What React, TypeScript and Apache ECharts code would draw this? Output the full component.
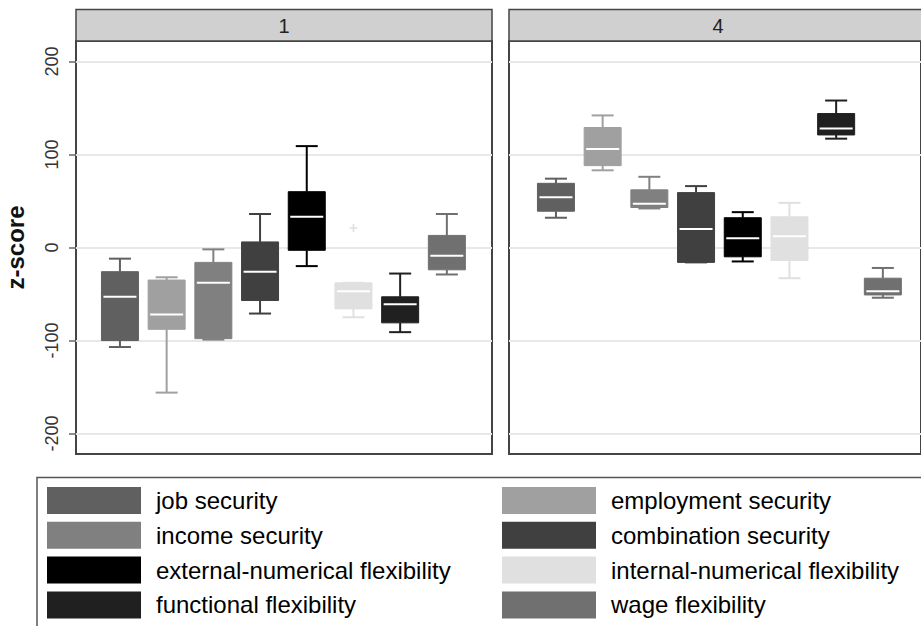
import React, { useEffect, useRef } from "react";
import * as echarts from "echarts";

const categories = [
  "job security",
  "employment security",
  "income security",
  "combination security",
  "external-numerical flexibility",
  "internal-numerical flexibility",
  "functional flexibility",
  "wage flexibility",
];
const colors = ["#606060", "#a0a0a0", "#808080", "#404040", "#000000", "#e0e0e0", "#202020", "#707070"];
const panels = ["1", "4"];
// [low whisker, Q1, median, Q3, high whisker]
const panel1Stats = [
  [-107, -100, -53, -26, -12],
  [-156, -88, -72, -35, -32],
  [-99, -98, -38, -16, -2],
  [-71, -57, -26, 6, 36],
  [-20, -3, 33, 60, 109],
  [-75, -66, -47, -38, -38],
  [-91, -81, -61, -53, -28],
  [-29, -24, -9, 13, 36],
];
const panel4Stats = [
  [32, 39, 54, 69, 74],
  [83, 88, 106, 129, 142],
  [42, 43, 47, 62, 76],
  [-16, -16, 20, 59, 66],
  [-15, -10, 10, 32, 38],
  [-33, -14, 12, 33, 48],
  [117, 121, 128, 144, 158],
  [-54, -51, -47, -33, -22],
];
const panel1Outliers = [[5, 21]];
const yTicks = [-200, -100, 0, 100, 200];
const yMin = -222;
const yMax = 222;

const FONT = "'Liberation Sans', Arial, sans-serif";

export default function App() {
  const ref = useRef<HTMLDivElement>(null);
  useEffect(() => {
    document.body.style.margin = "0";
    document.body.style.overflow = "hidden";
    const chart = echarts.init(ref.current!, null, { renderer: "svg" });

    const boxW = 37;
    const capW = 22;
    const renderBox = (params: any, api: any) => {
      const x = api.value(0);
      const low = api.coord([x, api.value(1)]);
      const q1 = api.coord([x, api.value(2)]);
      const med = api.coord([x, api.value(3)]);
      const q3 = api.coord([x, api.value(4)]);
      const high = api.coord([x, api.value(5)]);
      const cx = low[0];
      const color = api.visual("color");
      const ws = { stroke: color, lineWidth: 2 };
      return {
        type: "group",
        children: [
          { type: "line", shape: { x1: cx, y1: high[1], x2: cx, y2: q3[1] }, style: ws },
          { type: "line", shape: { x1: cx, y1: q1[1], x2: cx, y2: low[1] }, style: ws },
          { type: "line", shape: { x1: cx - capW / 2, y1: high[1], x2: cx + capW / 2, y2: high[1] }, style: ws },
          { type: "line", shape: { x1: cx - capW / 2, y1: low[1], x2: cx + capW / 2, y2: low[1] }, style: ws },
          {
            type: "rect",
            shape: { x: cx - boxW / 2, y: q3[1], width: boxW, height: q1[1] - q3[1] },
            style: { fill: color, stroke: color, lineWidth: 1 },
          },
          {
            type: "line",
            shape: { x1: cx - boxW / 2 + 2, y1: med[1], x2: cx + boxW / 2 - 2, y2: med[1] },
            style: { stroke: "#ffffff", lineWidth: 2 },
          },
        ],
      };
    };

    const top = 41;
    const height = 413;
    const frames = [
      { left: 76, width: 416 },
      { left: 509, width: 418 },
    ];
    const dataGrids = [
      { left: 96.6, width: 373.6 },
      { left: 532.6, width: 373.6 },
    ];

    const grid: any[] = [];
    frames.forEach((f) =>
      grid.push({ left: f.left, top, width: f.width, height, show: true, borderColor: "#444", borderWidth: 2, backgroundColor: "#fff", containLabel: false })
    );
    dataGrids.forEach((g) => grid.push({ left: g.left, top, width: g.width, height, containLabel: false }));

    const xAxis: any[] = [0, 1, 2, 3].map((i) => ({
      type: "category",
      gridIndex: i,
      data: categories,
      show: false,
    }));

    const yAxis: any[] = [
      {
        type: "value",
        gridIndex: 0,
        min: yMin,
        max: yMax,
        name: "z-score",
        nameLocation: "middle",
        nameRotate: 90,
        nameGap: 49,
        nameTextStyle: { fontFamily: FONT, fontSize: 24, fontWeight: "bold", color: "#111" },
        axisLine: { show: false },
        axisTick: { show: true, length: 7, customValues: yTicks, lineStyle: { color: "#666", width: 1.5 } },
        axisLabel: { rotate: 90, customValues: yTicks, margin: 15, fontFamily: FONT, fontSize: 18, color: "#333" },
        splitLine: { show: true, lineStyle: { color: "#e8e8e8", width: 2 } },
      },
      {
        type: "value",
        gridIndex: 1,
        min: yMin,
        max: yMax,
        axisLine: { show: false },
        axisTick: { show: false, customValues: yTicks },
        axisLabel: { show: false, customValues: yTicks },
        splitLine: { show: true, lineStyle: { color: "#e8e8e8", width: 2 } },
      },
      { type: "value", gridIndex: 2, min: yMin, max: yMax, show: false, splitLine: { show: false } },
      { type: "value", gridIndex: 3, min: yMin, max: yMax, show: false, splitLine: { show: false } },
    ];

    const series: any[] = [];
    [panel1Stats, panel4Stats].forEach((stats, p) => {
      categories.forEach((name, i) => {
        series.push({
          type: "custom",
          name,
          xAxisIndex: 2 + p,
          yAxisIndex: 2 + p,
          itemStyle: { color: colors[i] },
          renderItem: renderBox,
          encode: { x: 0, y: [1, 2, 3, 4, 5] },
          data: [[i, ...stats[i]]],
          z: 3,
        });
      });
    });
    series.push({
      type: "scatter",
      name: "outlier",
      xAxisIndex: 2,
      yAxisIndex: 2,
      symbol: "path://M4,0H6V4H10V6H6V10H4V6H0V4H4Z",
      symbolSize: 8,
      itemStyle: { color: "#d8d8d8" },
      data: panel1Outliers,
      z: 3,
    });

    const legendBase = {
      orient: "vertical",
      top: 487,
      height: 200,
      padding: 0,
      icon: "rect",
      itemWidth: 94,
      itemHeight: 27,
      itemGap: 7.8,
      selectedMode: false,
      itemStyle: { borderWidth: 0 },
      textStyle: { fontFamily: FONT, fontSize: 24, lineHeight: 27, color: "#000", padding: [0, 0, 0, 10] },
    };

    const graphic: any[] = [];
    panels.forEach((label, p) => {
      const f = frames[p];
      graphic.push({
        type: "rect",
        shape: { x: f.left, y: 9.5, width: f.width, height: 31.5 },
        style: { fill: "#d0d0d0", stroke: "#444", lineWidth: 1.5 },
      });
      graphic.push({
        type: "text",
        x: f.left + f.width / 2,
        y: 25.5,
        style: { text: label, fontFamily: FONT, fontSize: 20, fill: "#222", textAlign: "center", textVerticalAlign: "middle" },
      });
    });
    graphic.push({
      type: "rect",
      shape: { x: 37, y: 477.5, width: 920, height: 200 },
      style: { fill: "none", stroke: "#555", lineWidth: 1.5 },
    });

    chart.setOption({
      animation: false,
      backgroundColor: "#fff",
      grid,
      xAxis,
      yAxis,
      series,
      graphic,
      legend: [
        { ...legendBase, left: 47, data: [categories[0], categories[2], categories[4], categories[6]] },
        { ...legendBase, left: 502, data: [categories[1], categories[3], categories[5], categories[7]] },
      ],
    });
    return () => chart.dispose();
  }, []);
  return <div ref={ref} style={{ width: 921, height: 626 }} />;
}
